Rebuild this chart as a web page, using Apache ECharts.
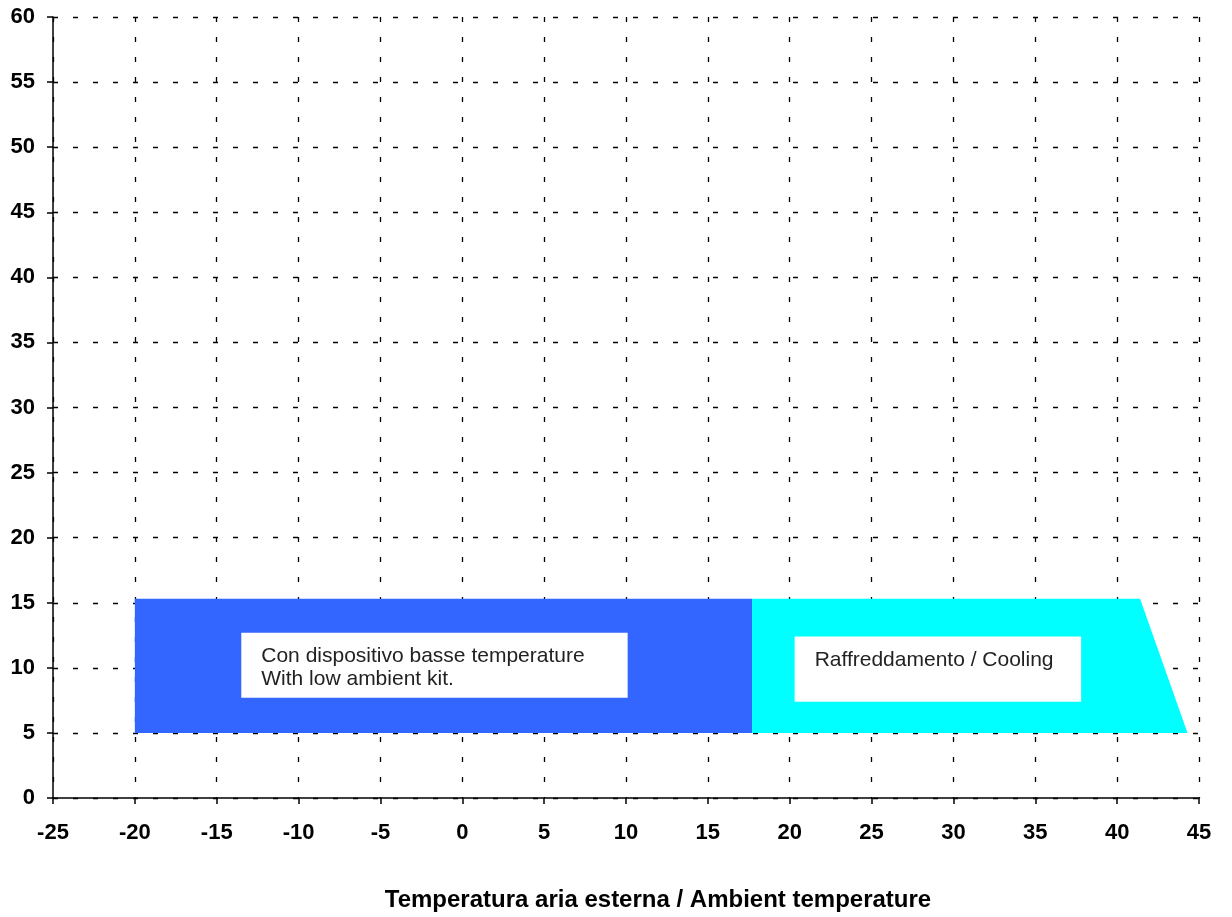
<!DOCTYPE html>
<html>
<head>
<meta charset="utf-8">
<script src="https://cdn.jsdelivr.net/npm/echarts@6/dist/echarts.min.js"></script>
<style>
    html, body { margin: 0; padding: 0; background: #fff; }
    #chart { width: 1232px; height: 917px; }
</style>
</head>
<body>
<div id="chart"></div>
<script>
    // operating envelope, [ambient temp, value]
    const lowAmbientArea = [[-20, 5], [-20, 15.3], [17.7, 15.3], [17.7, 5]];
    const coolingArea = [[17.7, 5], [17.7, 15.3], [41.4, 15.3], [44.3, 5]];

    // label boxes: [xMin, yMax, xMax, yMin]
    const lowAmbientBox = [-13.5, 12.7, 10.1, 7.7];
    const coolingBox = [20.3, 12.4, 37.8, 7.4];
    const lowAmbientText = 'Con dispositivo basse temperature\nWith low ambient kit.';
    const coolingText = 'Raffreddamento / Cooling';

    const xTitle = 'Temperatura aria esterna / Ambient temperature';

    const areas = [
        {points: lowAmbientArea, color: '#3366ff'},
        {points: coolingArea, color: '#00ffff'}
    ];
    const boxes = [
        {box: lowAmbientBox, text: lowAmbientText},
        {box: coolingBox, text: coolingText}
    ];

    const myChart = echarts.init(document.getElementById('chart'));

    const gridLine = {show: true, lineStyle: {color: '#000', width: 1.3, type: [5, 15]}};

    const option = {
        animation: false,
        grid: {left: 53, right: 33, top: 17, bottom: 118},
        xAxis: {
            type: 'value', min: -25, max: 45, interval: 5,
            name: xTitle, nameLocation: 'middle', nameGap: 90,
            nameTextStyle: {fontFamily: 'Liberation Sans', fontWeight: 'bold', fontSize: 24, color: '#000', padding: [0, 0, 0, 64]},
            axisLine: {show: true, onZero: false, lineStyle: {color: '#000', width: 1.5}},
            axisTick: {show: true, length: 6, lineStyle: {color: '#000', width: 1.5}},
            axisLabel: {margin: 24, fontFamily: 'Liberation Sans', fontWeight: 'bold', fontSize: 22, color: '#000'},
            splitLine: gridLine
        },
        yAxis: {
            type: 'value', min: 0, max: 60, interval: 5,
            axisLine: {show: true, onZero: false, lineStyle: {color: '#000', width: 1.5}},
            axisTick: {show: true, length: 6, lineStyle: {color: '#000', width: 1.5}},
            axisLabel: {margin: 18, fontFamily: 'Liberation Sans', fontWeight: 'bold', fontSize: 22, color: '#000'},
            splitLine: gridLine
        },
        series: [
            {
                type: 'custom',
                data: areas.map((a, i) => [i]),
                z: 3,
                renderItem: function (params, api) {
                    const a = areas[params.dataIndex];
                    return {
                        type: 'polygon',
                        shape: {points: a.points.map(p => api.coord(p))},
                        style: {fill: a.color}
                    };
                }
            },
            {
                type: 'custom',
                data: boxes.map((b, i) => [i]),
                z: 4,
                renderItem: function (params, api) {
                    const b = boxes[params.dataIndex];
                    const tl = api.coord([b.box[0], b.box[1]]);
                    const br = api.coord([b.box[2], b.box[3]]);
                    return {
                        type: 'group',
                        children: [
                            {
                                type: 'rect',
                                shape: {x: tl[0], y: tl[1], width: br[0] - tl[0], height: br[1] - tl[1]},
                                style: {fill: '#fff'}
                            },
                            {
                                type: 'text',
                                x: tl[0] + 20,
                                y: tl[1] + 12,
                                style: {
                                    text: b.text,
                                    fontFamily: 'Liberation Sans',
                                    fontSize: 21,
                                    lineHeight: 23,
                                    fill: '#222'
                                }
                            }
                        ]
                    };
                }
            }
        ]
    };
    myChart.setOption(option);
</script>
</body>
</html>
